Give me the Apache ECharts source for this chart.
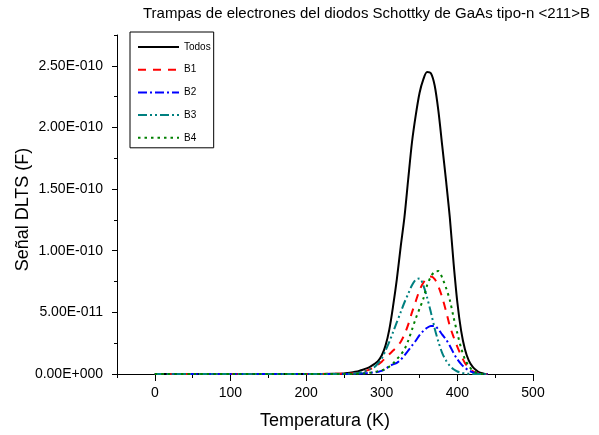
<!DOCTYPE html>
<html>
<head>
<meta charset="utf-8">
<script src="https://cdn.jsdelivr.net/npm/echarts@6/dist/echarts.min.js"></script>
<style>html,body{margin:0;padding:0;background:#fff}#c{width:599px;height:435px}</style>
</head>
<body>
<div id="c"></div>
<script>
// Temperatura (K)
const temperature = [0, 50, 100, 150, 200, 240,
  250, 255, 260, 265, 270, 275, 280, 285, 290, 295,
  300, 305, 310, 315, 320, 325, 330, 335, 340, 345,
  350, 355, 360, 365, 370, 375, 380, 385, 390, 395,
  400, 405, 410, 415, 420, 425, 430, 435, 440];
// Señal DLTS in pF (1e-12 F)
const todos = [0, 0, 0, 0, 0, 0.3,
  0.5, 0.8, 1.2, 1.8, 2.5, 3.4, 4.5, 6, 8, 10.5,
  15, 23, 36, 55, 77, 103, 127, 158, 188, 210,
  228, 239, 245, 244, 234, 213, 185, 157, 127, 90,
  58, 35, 20, 11, 6, 3, 1, 0.3, 0];
const b1 = [0, 0, 0, 0, 0, 0.2,
  0.3, 0.4, 0.5, 0.8, 1.2, 1.8, 2.7, 4, 5.5, 7.5,
  10, 13, 16, 19, 22, 26, 32, 40, 50, 59,
  68, 74, 78, 79, 77, 71, 62, 51, 39, 30,
  22, 15, 9, 5, 2.3, 1, 0.3, 0, 0];
const b2 = [0, 0, 0, 0, 0, 0,
  0, 0, 0.1, 0.2, 0.3, 0.5, 0.7, 1, 1.3, 1.8,
  2.5, 4, 6.3, 7.8, 9, 11.5, 15, 19, 23, 27,
  31.5, 35, 37.5, 39, 39, 36, 32, 28, 23, 17,
  12, 8, 5, 3, 1.5, 0.6, 0.1, 0, 0];
const b3 = [0, 0, 0, 0, 0, 0,
  0.1, 0.2, 0.3, 0.6, 1, 1.7, 2.7, 4, 5.5, 8.5,
  12.5, 19, 26, 34, 42, 50, 58, 65, 72, 76.5,
  77.5, 72, 62, 50, 37, 26, 17, 11, 6.7, 3.8,
  2, 1, 0.5, 0.2, 0, 0, 0, 0, 0];
const b4 = [0, 0, 0, 0, 0, 0,
  0, 0, 0.1, 0.2, 0.3, 0.5, 0.8, 1.1, 1.5, 2.2,
  3, 4.2, 6, 8.5, 12, 15.5, 20, 27, 36, 45,
  53, 61, 72, 79, 83, 83.5, 78, 70, 60, 46,
  33, 21, 12, 6.5, 3, 1.2, 0.3, 0, 0];

const seriesNames = ['Todos', 'B1', 'B2', 'B3', 'B4'];
const xMajorTicks = [0, 100, 200, 300, 400, 500];
const xMinorTicks = [-50, 50, 150, 250, 350, 450];
const yMajorTicks = [0, 50, 100, 150, 200, 250];
const yMinorTicks = [25, 75, 125, 175, 225, 275];

function fmtE(v) {
  const s = (v * 1e-12).toExponential(2);
  const parts = s.split('e');
  const exp = parseInt(parts[1], 10);
  const sign = exp < 0 ? '-' : '+';
  return parts[0] + 'E' + sign + String(Math.abs(exp)).padStart(3, '0');
}
function pairs(ys) { return temperature.map((t, i) => [t, ys[i]]); }

const FONT = 'Liberation Sans, Arial, sans-serif';
const chart = echarts.init(document.getElementById('c'), null, {renderer: 'canvas'});
const styles = [
  {color: '#000000', type: 'solid', width: 2},
  {color: '#ff0000', type: [8, 7], width: 2},
  {color: '#0000ff', type: [9, 3, 2, 3], width: 2},
  {color: '#008080', type: [9, 3, 2, 3, 2, 3], width: 2},
  {color: '#008000', type: [2.5, 4], width: 2}
];
const dataSets = [todos, b1, b2, b3, b4];

chart.setOption({
  animation: false,
  backgroundColor: '#fff',
  title: {
    text: 'Trampas de electrones del diodos Schottky de GaAs tipo-n <211>B',
    left: 143, top: 6, padding: 0,
    textStyle: {fontFamily: FONT, fontSize: 15, fontWeight: 'normal', color: '#000'}
  },
  legend: {
    orient: 'vertical', left: 130, top: 32,
    padding: [10, 3, 5, 7],
    borderColor: '#000', borderWidth: 1,
    itemWidth: 41, itemHeight: 10, itemGap: 12.7,
    data: seriesNames,
    itemStyle: {opacity: 0},
    textStyle: {fontFamily: FONT, fontSize: 10, color: '#000', padding: [5, 0, 0, 0]}
  },
  grid: {left: 117, right: 66, top: 35, bottom: 60},
  xAxis: [{
    type: 'value', min: -50, max: 500,
    name: 'Temperatura (K)', nameLocation: 'middle', nameGap: 38, nameMoveOverlap: false,
    nameTextStyle: {fontFamily: FONT, fontSize: 18, color: '#000'},
    axisLine: {onZero: false, lineStyle: {color: '#000', width: 1}},
    axisTick: {show: true, customValues: xMajorTicks, length: 7, lineStyle: {color: '#000'}},
    axisLabel: {customValues: xMajorTicks, fontFamily: FONT, fontSize: 14, color: '#000', margin: 12},
    splitLine: {show: false}
  }, {
    type: 'value', min: -50, max: 500, position: 'bottom', offset: 0,
    axisLine: {show: false},
    axisTick: {show: true, customValues: xMinorTicks, length: 4, lineStyle: {color: '#000'}},
    axisLabel: {show: false},
    splitLine: {show: false}
  }],
  yAxis: [{
    type: 'value', min: 0, max: 275,
    name: 'Señal DLTS (F)', nameLocation: 'middle', nameGap: 85, nameMoveOverlap: false,
    nameTextStyle: {fontFamily: FONT, fontSize: 18, color: '#000', padding: [0, 10, 0, 0]},
    axisLine: {show: true, onZero: false, lineStyle: {color: '#000', width: 1}},
    axisTick: {show: true, customValues: yMajorTicks, length: 5, lineStyle: {color: '#000'}},
    axisLabel: {customValues: yMajorTicks, formatter: fmtE, fontFamily: FONT, fontSize: 14, color: '#000', margin: 14},
    splitLine: {show: false}
  }, {
    type: 'value', min: 0, max: 275, position: 'left', offset: 0,
    axisLine: {show: false, onZero: false},
    axisTick: {show: true, customValues: yMinorTicks, length: 3, lineStyle: {color: '#000'}},
    axisLabel: {show: false},
    splitLine: {show: false}
  }],
  series: seriesNames.map((n, i) => ({
    name: n, type: 'line', xAxisIndex: 0, yAxisIndex: 0,
    data: pairs(dataSets[i]),
    symbol: 'none', smooth: 0.3,
    color: styles[i].color,
    lineStyle: {color: styles[i].color, type: styles[i].type, width: styles[i].width}
  }))
});
</script>
</body>
</html>
